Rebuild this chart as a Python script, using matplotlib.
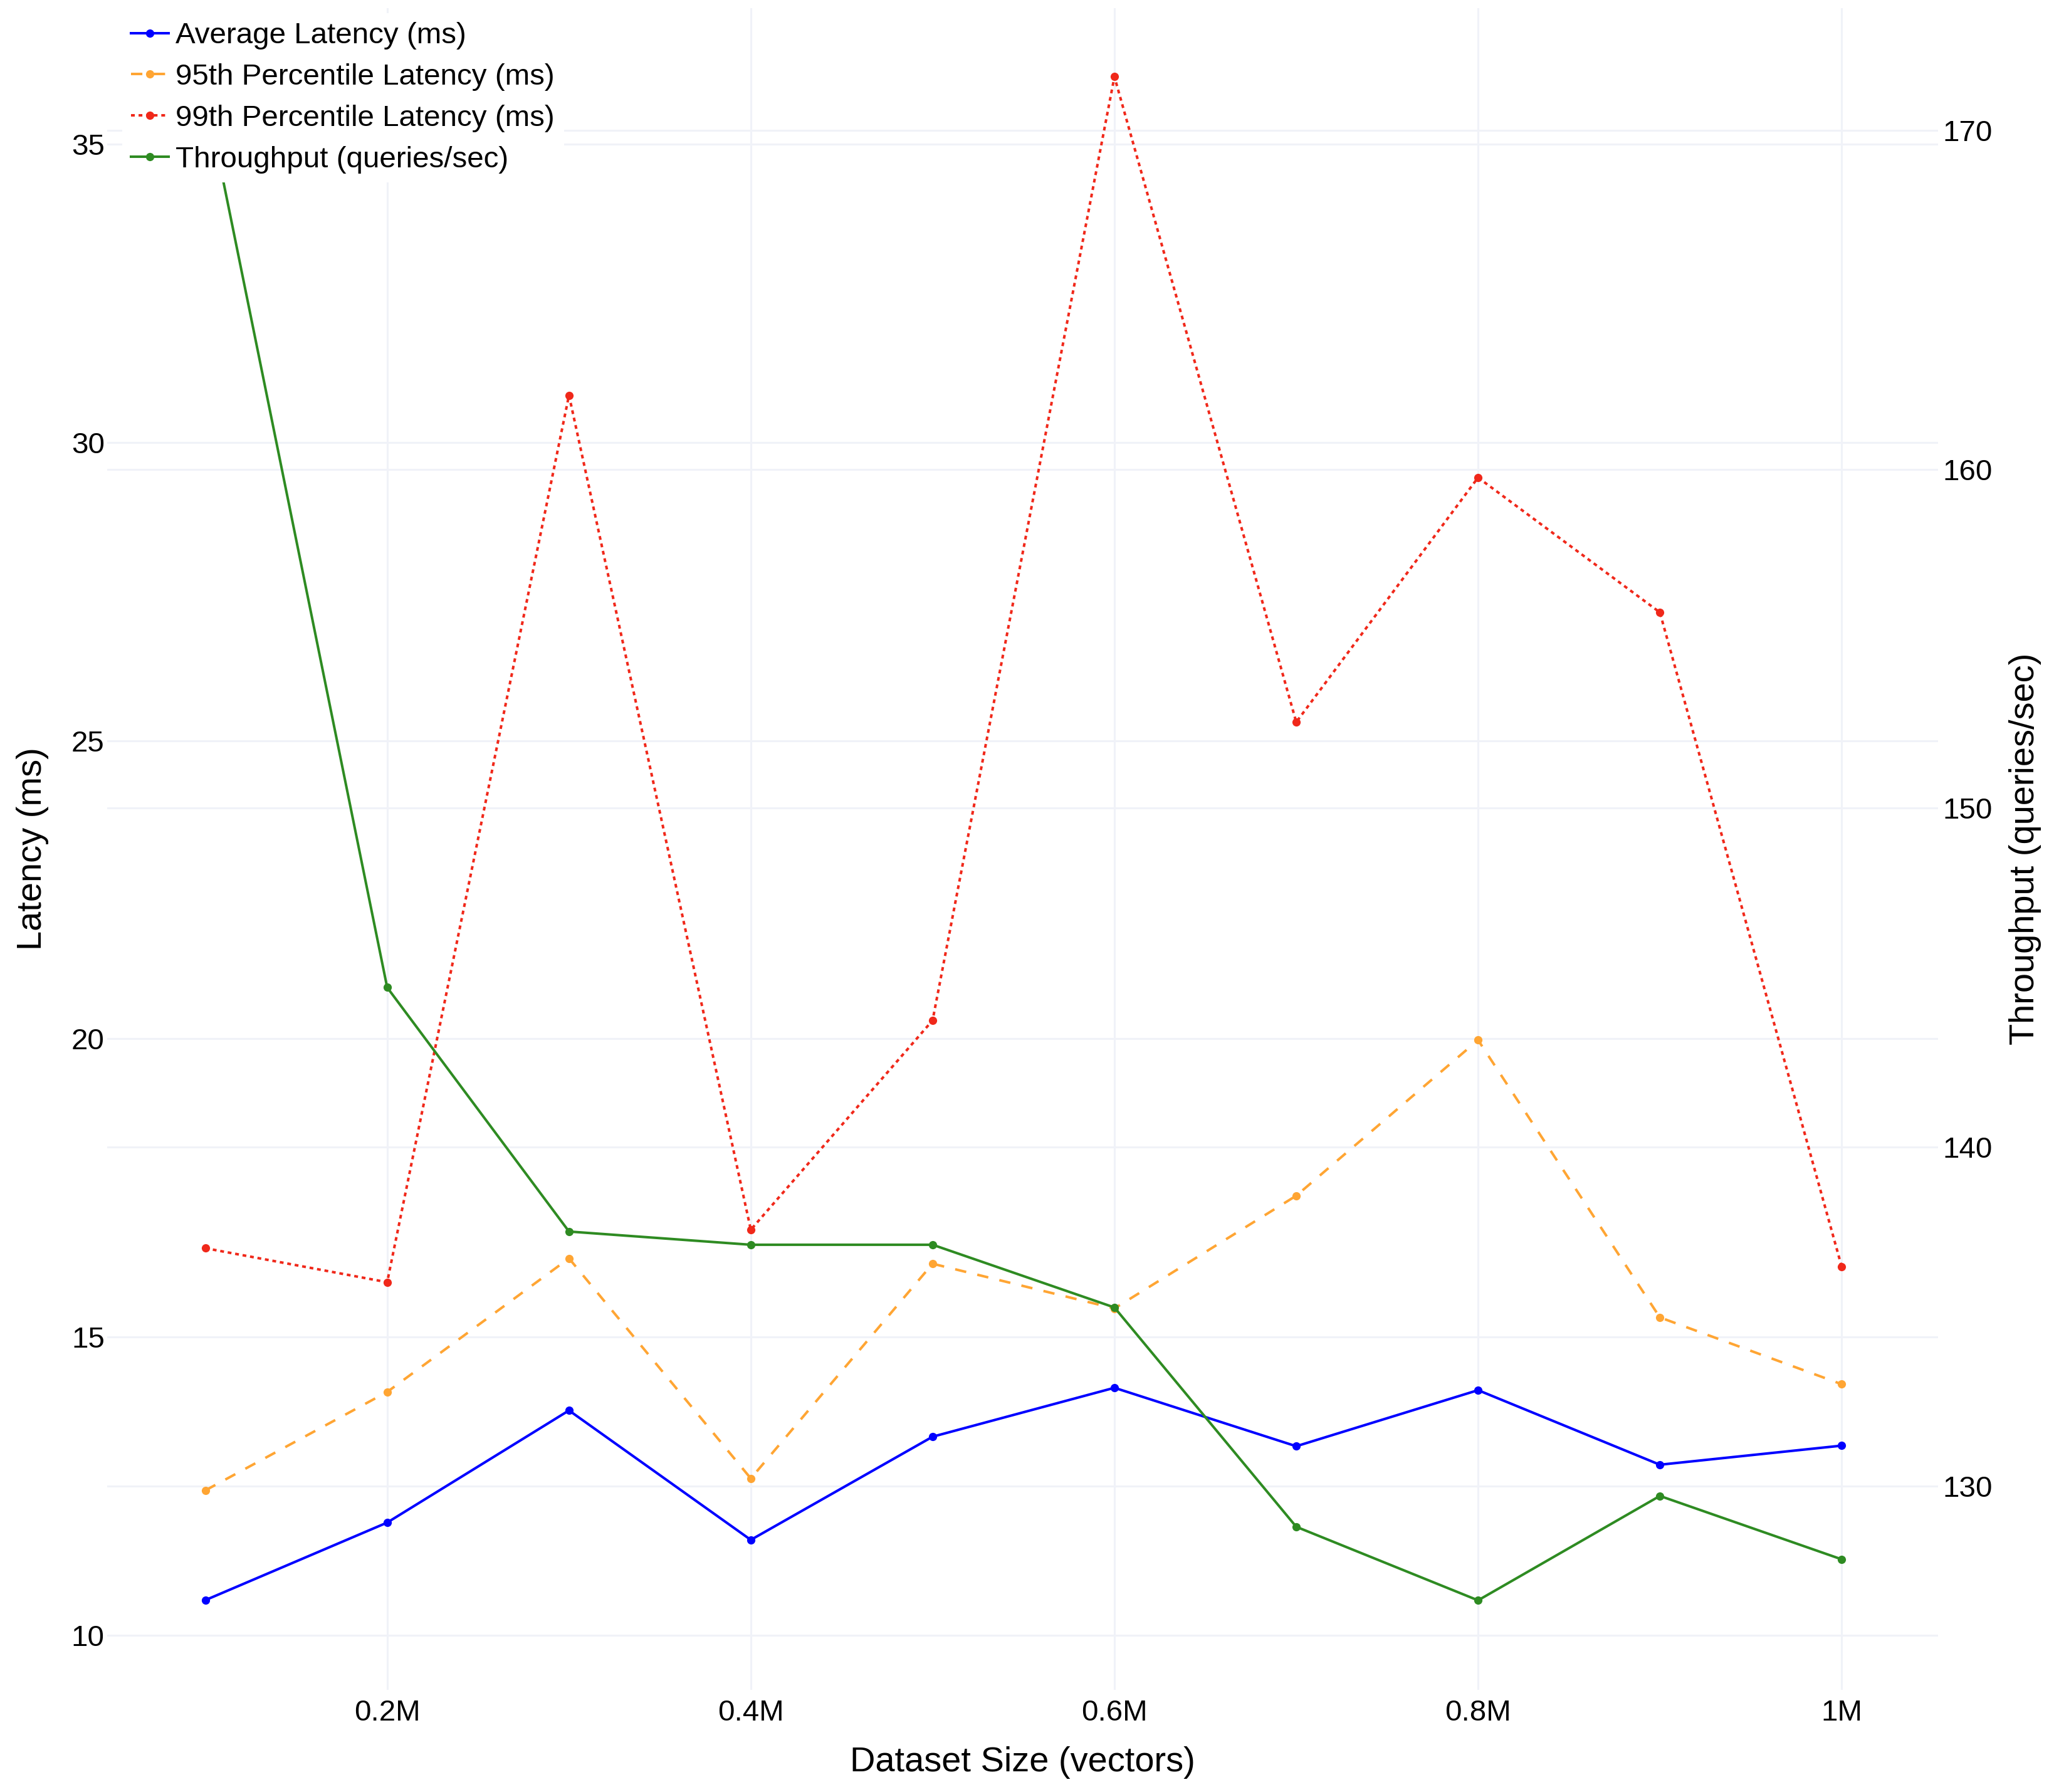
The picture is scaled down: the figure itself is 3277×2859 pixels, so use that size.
import matplotlib
matplotlib.use("Agg")
import matplotlib.pyplot as plt
from matplotlib.ticker import FuncFormatter
from matplotlib.transforms import blended_transform_factory

plt.rcParams['font.family'] = ['Liberation Sans', 'DejaVu Sans']

# data
sizes = [0.1, 0.2, 0.3, 0.4, 0.5, 0.6, 0.7, 0.8, 0.9, 1.0]  # millions of vectors
avg_latency = [10.59, 11.89, 13.77, 11.60, 13.33, 14.15, 13.17, 14.11, 12.86, 13.18]
p95_latency = [12.43, 14.08, 16.32, 12.63, 16.23, 15.48, 17.37, 19.98, 15.33, 14.21]
p99_latency = [16.49, 15.92, 30.79, 16.80, 20.31, 36.13, 25.31, 29.41, 27.15, 16.18]
throughput = [171.1, 144.71, 137.51, 137.12, 137.12, 135.27, 128.80, 126.63, 129.71, 127.84]

x_ticks = [0.2, 0.4, 0.6, 0.8, 1.0]
left_ticks = [10, 15, 20, 25, 30, 35]
right_ticks = [130, 140, 150, 160, 170]

W, H = 3277, 2859
fig = plt.figure(figsize=(W / 100, H / 100), dpi=100)
ax = fig.add_axes([171 / W, 1 - 2696 / H, (3092 - 171) / W, (2696 - 13) / H])
ax2 = ax.twinx()

grid_c = '#F0F2F8'
grid_lw = 2.2
tick_fs = 34.2
title_fs = 40.3
lw = 2.9
ms = 8.5

ax.set_xlim(0.046, 1.053)
ax.set_ylim(9.086, 37.28)
ax2.set_ylim(123.99, 173.6)

# grid of both y axes drawn on the bottom axes so nothing covers the lines
ax.grid(True, color=grid_c, lw=grid_lw)
ax.set_axisbelow(True)
ax2.grid(False)
right_grid_tr = blended_transform_factory(ax.transAxes, ax2.transData)
for v in right_ticks:
    ax.plot([0, 1], [v, v], transform=right_grid_tr, color=grid_c, lw=grid_lw,
            zorder=0.5)

l1, = ax.plot(sizes, avg_latency, color='#0000FF', lw=lw, marker='o', ms=ms,
              label='Average Latency (ms)')
l2, = ax.plot(sizes, p95_latency, color='#FFA533', lw=lw, marker='o', ms=ms,
              dashes=(4.5, 4.5), label='95th Percentile Latency (ms)')
l3, = ax.plot(sizes, p99_latency, color='#F0281A', lw=lw, marker='o', ms=ms,
              dashes=(1.5, 1.5), label='99th Percentile Latency (ms)')
l4, = ax2.plot(sizes, throughput, color='#2E8B22', lw=lw, marker='o', ms=ms,
               label='Throughput (queries/sec)')

ax.set_xticks(x_ticks)
ax.xaxis.set_major_formatter(FuncFormatter(lambda v, p: f"{v:g}M"))
ax.set_yticks(left_ticks)
ax2.set_yticks(right_ticks)

for a in (ax, ax2):
    for s in a.spines.values():
        s.set_visible(False)
    a.tick_params(length=0, labelsize=tick_fs, colors='black')
ax.tick_params(axis='x', pad=11)
ax.tick_params(axis='y', pad=3)
ax2.tick_params(axis='y', pad=5)

ax.set_xlabel('Dataset Size (vectors)', fontsize=title_fs, labelpad=22)
ax.set_ylabel('Latency (ms)', fontsize=title_fs, labelpad=26)
ax2.set_ylabel('Throughput (queries/sec)', fontsize=title_fs, labelpad=19)

leg = ax2.legend(handles=[l1, l2, l3, l4], loc='upper left',
                 bbox_to_anchor=(195 / W, 1 - 21 / H),
                 bbox_transform=fig.transFigure, borderaxespad=0,
                 fontsize=tick_fs, frameon=True, facecolor='white',
                 edgecolor='none', framealpha=1, fancybox=False,
                 handlelength=1.25, handletextpad=0.25, labelspacing=0.46,
                 borderpad=0.3, numpoints=1)
leg.set_zorder(10)

fig.savefig('out.png', dpi=100, facecolor='white')
